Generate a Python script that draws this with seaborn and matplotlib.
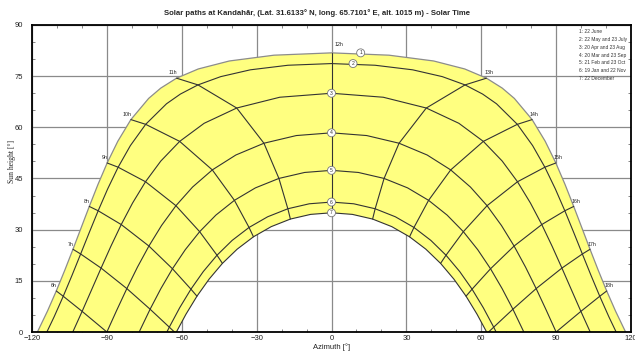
import numpy as np
import pandas as pd
import matplotlib
matplotlib.use("Agg")
import matplotlib.pyplot as plt
import seaborn as sns
from matplotlib.ticker import MultipleLocator

title = "Solar paths at Kandahār, (Lat. 31.6133° N, long. 65.7101° E, alt. 1015 m) - Solar Time"
legend_lines = ["1: 22 June", "2: 22 May and 23 July", "3: 20 Apr and 23 Aug",
                "4: 20 Mar and 23 Sep", "5: 21 Feb and 23 Oct", "6: 19 Jan and 22 Nov",
                "7: 22 December"]
hour_ticks = [6, 7, 8, 9, 10, 11, 12, 13, 14, 15, 16, 17, 18]

# solar time [h], azimuth [deg, 0 = south, east negative], sun height [deg]
t_jun = [4.968, 5.0, 5.5, 6.0, 6.5, 7.0, 7.5, 8.0, 8.5, 9.0, 9.5, 10.0, 10.5, 10.75, 11.0, 11.25, 11.5, 11.75, 12.0,
         12.25, 12.5, 12.75, 13.0, 13.25, 13.5, 14.0, 14.5, 15.0, 15.5, 16.0, 16.5, 17.0, 17.5, 18.0, 18.5, 19.0, 19.032]
az_jun = [-117.85, -117.60, -113.82, -110.27, -106.88, -103.59, -100.34, -97.05, -93.62, -89.89, -85.62, -80.38,
          -73.26, -68.41, -62.09, -53.39, -40.94, -23.03, 0.0,
          23.03, 40.94, 53.39, 62.09, 68.41, 73.26, 80.38, 85.62, 89.89, 93.62, 97.05, 100.34, 103.59, 106.88,
          110.27, 113.82, 117.60, 117.85]
el_jun = [0.0, 0.36, 6.11, 12.03, 18.09, 24.25, 30.50, 36.81, 43.17, 49.55, 55.92, 62.27, 68.48, 71.50, 74.41,
          77.11, 79.45, 81.15, 81.83,
          81.15, 79.45, 77.11, 74.41, 71.50, 68.48, 62.27, 55.92, 49.55, 43.17, 36.81, 30.50, 24.25, 18.09,
          12.03, 6.11, 0.36, 0.0]

t_may = [5.123, 5.5, 6.0, 6.5, 7.0, 7.5, 8.0, 8.5, 9.0, 9.5, 10.0, 10.5, 10.75, 11.0, 11.25, 11.5, 11.75, 12.0,
         12.25, 12.5, 12.75, 13.0, 13.25, 13.5, 14.0, 14.5, 15.0, 15.5, 16.0, 16.5, 17.0, 17.5, 18.0, 18.5, 18.877]
az_may = [-114.05, -111.14, -107.48, -103.96, -100.51, -97.05, -93.49, -89.70, -85.49, -80.58, -74.46, -66.12,
          -60.55, -53.50, -44.40, -32.51, -17.44, 0.0,
          17.44, 32.51, 44.40, 53.50, 60.55, 66.12, 74.46, 80.58, 85.49, 89.70, 93.49, 97.05, 100.51, 103.96,
          107.48, 111.14, 114.05]
el_may = [0.0, 4.45, 10.48, 16.63, 22.87, 29.18, 35.54, 41.92, 48.31, 54.65, 60.88, 66.90, 69.75, 72.44, 74.86,
          76.86, 78.20, 78.69,
          78.20, 76.86, 74.86, 72.44, 69.75, 66.90, 60.88, 54.65, 48.31, 41.92, 35.54, 29.18, 22.87, 16.63,
          10.48, 4.45, 0.0]

t_apr = [5.516, 6.0, 6.5, 7.0, 7.5, 8.0, 8.5, 9.0, 9.5, 10.0, 10.5, 11.0, 11.5, 12.0,
         12.5, 13.0, 13.5, 14.0, 14.5, 15.0, 15.5, 16.0, 16.5, 17.0, 17.5, 18.0, 18.484]
az_apr = [-103.66, -99.92, -96.13, -92.32, -88.40, -84.25, -79.70, -74.52, -68.40, -60.83, -51.04, -37.98, -20.74, 0.0,
          20.74, 37.98, 51.04, 60.83, 68.40, 74.52, 79.70, 84.25, 88.40, 92.32, 96.13, 99.92, 103.66]
el_apr = [0.0, 6.05, 12.37, 18.74, 25.13, 31.50, 37.82, 44.05, 50.11, 55.88, 61.18, 65.66, 68.82, 69.99,
          68.82, 65.66, 61.18, 55.88, 50.11, 44.05, 37.82, 31.50, 25.13, 18.74, 12.37, 6.05, 0.0]

t_mar = [6.0, 6.5, 7.0, 7.5, 8.0, 8.5, 9.0, 9.5, 10.0, 10.5, 11.0, 11.5, 12.0,
         12.5, 13.0, 13.5, 14.0, 14.5, 15.0, 15.5, 16.0, 16.5, 17.0, 17.5, 18.0]
az_mar = [-90.0, -86.05, -82.00, -77.75, -73.16, -68.09, -62.33, -55.66, -47.76, -38.32, -27.07, -14.10, 0.0,
          14.10, 27.07, 38.32, 47.76, 55.66, 62.33, 68.09, 73.16, 77.75, 82.00, 86.05, 90.0]
el_mar = [0.0, 6.38, 12.73, 19.02, 25.20, 31.23, 37.03, 42.50, 47.52, 51.89, 55.34, 57.59, 58.39,
          57.59, 55.34, 51.89, 47.52, 42.50, 37.03, 31.23, 25.20, 19.02, 12.73, 6.38, 0.0]

t_feb = [6.458, 6.5, 7.0, 7.5, 8.0, 8.5, 9.0, 9.5, 10.0, 10.5, 11.0, 11.5, 12.0,
         12.5, 13.0, 13.5, 14.0, 14.5, 15.0, 15.5, 16.0, 16.5, 17.0, 17.5, 17.542]
az_feb = [-77.05, -76.72, -72.68, -68.38, -63.72, -58.58, -52.83, -46.31, -38.90, -30.49, -21.07, -10.78, 0.0,
          10.78, 21.07, 30.49, 38.90, 46.31, 52.83, 58.58, 63.72, 68.38, 72.68, 76.72, 77.05]
el_feb = [0.0, 0.52, 6.68, 12.70, 18.54, 24.14, 29.41, 34.28, 38.60, 42.25, 45.02, 46.77, 47.39,
          46.77, 45.02, 42.25, 38.60, 34.28, 29.41, 24.14, 18.54, 12.70, 6.68, 0.52, 0.0]

t_jan = [6.877, 7.0, 7.5, 8.0, 8.5, 9.0, 9.5, 10.0, 10.5, 11.0, 11.5, 12.0,
         12.5, 13.0, 13.5, 14.0, 14.5, 15.0, 15.5, 16.0, 16.5, 17.0, 17.123]
az_jan = [-65.96, -64.99, -60.83, -56.32, -51.37, -45.88, -39.80, -33.04, -25.58, -17.49, -8.89, 0.0,
          8.89, 17.49, 25.58, 33.04, 39.80, 45.88, 51.37, 56.32, 60.83, 64.99, 65.96]
el_jan = [0.0, 1.42, 7.11, 12.56, 17.72, 22.51, 26.86, 30.65, 33.78, 36.13, 37.59, 38.09,
          37.59, 36.13, 33.78, 30.65, 26.86, 22.51, 17.72, 12.56, 7.11, 1.42, 0.0]

t_dec = [7.0, 7.032, 7.5, 8.0, 8.5, 9.0, 9.5, 10.0, 10.5, 11.0, 11.5, 12.0,
         12.5, 13.0, 13.5, 14.0, 14.5, 15.0, 15.5, 16.0, 16.5, 16.968, 17.0]
az_dec = [-62.40, -62.15, -58.33, -53.91, -49.05, -43.70, -37.79, -31.27, -24.15, -16.47, -8.36, 0.0,
          8.36, 16.47, 24.15, 31.27, 37.79, 43.70, 49.05, 53.91, 58.33, 62.15, 62.40]
el_dec = [-0.36, 0.0, 5.19, 10.50, 15.49, 20.12, 24.29, 27.91, 30.89, 33.11, 34.48, 34.95,
          34.48, 33.11, 30.89, 27.91, 24.29, 20.12, 15.49, 10.50, 5.19, 0.0, -0.36]

days = [(t_jun, az_jun, el_jun), (t_may, az_may, el_may), (t_apr, az_apr, el_apr), (t_mar, az_mar, el_mar),
        (t_feb, az_feb, el_feb), (t_jan, az_jan, el_jan), (t_dec, az_dec, el_dec)]
frames = []
for k, (t, az, el) in enumerate(days, start=1):
    frames.append(pd.DataFrame({"day": k, "t": t, "az": az, "el": el}))
df = pd.concat(frames, ignore_index=True)
hours_df = df[df["t"].isin(hour_ticks)]

sns.set_style("ticks")
plt.rcParams["font.family"] = ["Liberation Sans", "DejaVu Sans"]

fig = plt.figure(figsize=(6.35, 3.52), dpi=100)
ax = fig.add_axes([0.0504, 0.0568, 0.9433, 0.8722])

# yellow band between the June and December paths
ax.fill(np.r_[az_jun, az_dec[::-1]], np.r_[el_jun, el_dec[::-1]],
        color="#ffff80", lw=0, zorder=1)

sns.lineplot(data=df[df["day"] > 1], x="az", y="el", units="day", estimator=None, sort=False,
             color="#333333", lw=0.8, legend=False, ax=ax, zorder=2)
sns.lineplot(data=df[df["day"] == 1], x="az", y="el", estimator=None, sort=False,
             color="#8c8c8c", lw=0.9, legend=False, ax=ax, zorder=2)
sns.lineplot(data=hours_df, x="az", y="el", units="t", estimator=None, sort=False,
             color="#333333", lw=0.8, legend=False, ax=ax, zorder=2)

# hour labels at the June end of each hour line
jun = df[df["day"] == 1].set_index("t")
for h in hour_ticks:
    x, y = jun.loc[h, "az"], jun.loc[h, "el"]
    if h < 12:
        off, ha = (0.5, 2), "right"
    elif h == 12:
        off, ha = (2.5, 4), "left"
    else:
        off, ha = (-1.5, 2), "left"
    ax.annotate(f"{h}h", (x, y), xytext=off, textcoords="offset points",
                ha=ha, va="bottom", fontsize=3.8, color="#222222", zorder=4)

# numbered circles at noon
noon = df[df["t"] == 12.0]
shift = {1: 21, 2: 15.5}
for _, r in noon.iterrows():
    d = int(r["day"])
    ax.annotate(str(d), (r["az"], r["el"]), xytext=(shift.get(d, 0), 0), textcoords="offset points",
                ha="center", va="center", fontsize=3.6, color="#333333", zorder=5,
                bbox=dict(boxstyle="circle,pad=0.3", fc="white", ec="#777777", lw=0.6))

ax.set_xlim(-120, 120)
ax.set_ylim(0, 90)
ax.xaxis.set_major_locator(MultipleLocator(30))
ax.yaxis.set_major_locator(MultipleLocator(15))
ax.xaxis.set_minor_locator(MultipleLocator(10))
ax.yaxis.set_minor_locator(MultipleLocator(5))
ax.grid(True, which="major", color="#8a8a8a", lw=0.9)
ax.set_axisbelow(True)
ax.tick_params(which="major", length=0, labelsize=5.5, colors="#222222")
ax.tick_params(axis="y", which="major", pad=6.5)
ax.tick_params(axis="x", which="major", pad=2)
ax.tick_params(which="minor", direction="in", length=2.2, width=0.5, color="#555555",
               top=True, right=True, bottom=True, left=True)
for s in ax.spines.values():
    s.set_visible(True)
    s.set_linewidth(1.3)
    s.set_color("black")

ax.set_xlabel("Azimuth [°]", fontsize=5.5, color="#222222")
ax.xaxis.set_label_coords(0.5, -0.037)
ax.set_ylabel("Sun height [°]", fontsize=5.5, color="#222222", family=["Liberation Serif"])
ax.yaxis.set_label_coords(-0.027, 0.554)

fig.text(0.5, 0.963, title, ha="center", va="center", fontsize=5.6, fontweight="bold")
for i, line in enumerate(legend_lines):
    fig.text(579 / 635, 1 - (31.5 + i * 7.85) / 352, line, ha="left", va="center",
             fontsize=3.5, color="#333333")

fig.savefig("out.png", dpi=100, facecolor="white")
